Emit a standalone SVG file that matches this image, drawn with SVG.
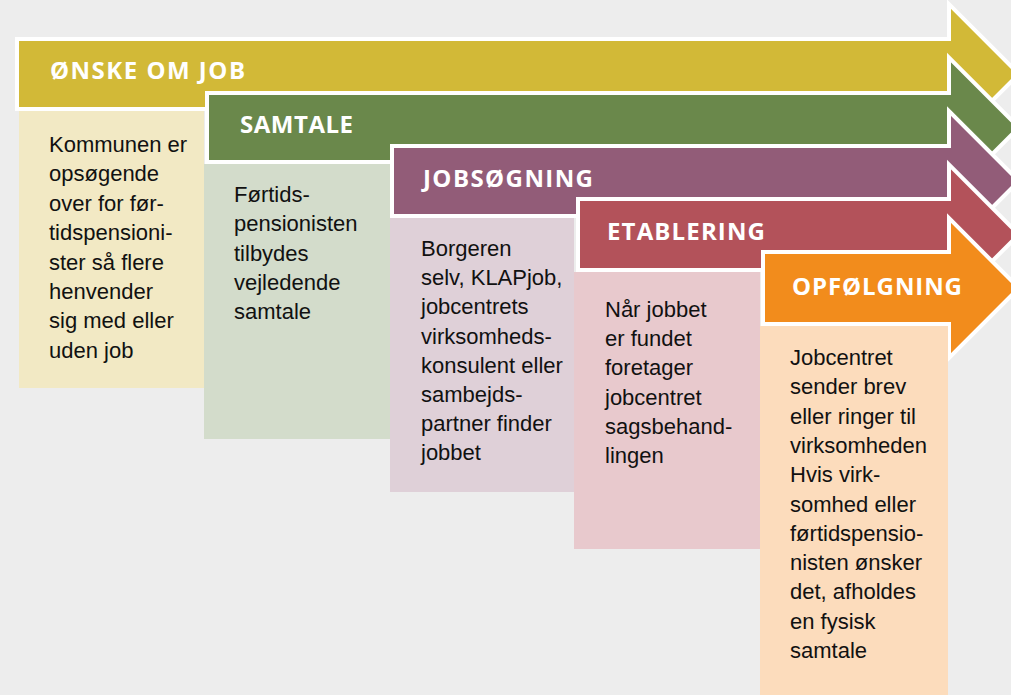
<svg xmlns="http://www.w3.org/2000/svg" width="1011" height="695" viewBox="0 0 1011 695">
<style>
.band{stroke:#ffffff;stroke-width:4;stroke-linejoin:miter}
.hd{font-family:"Open Sans","DejaVu Sans",sans-serif;font-weight:700;font-size:24px;fill:#ffffff}
.bd{font-family:"Liberation Sans",Arial,sans-serif;font-size:22px;fill:#111111}
</style>
<rect x="0" y="0" width="1011" height="695" fill="#ededed"/>
<g id="step1">
<polygon class="band" fill="#d2b937" points="17,39 949,39 949,4.2 1018.8,74 949,143.8 949,109 17,109"/>
<text class="hd" x="50" y="78.5" textLength="195">ØNSKE OM JOB</text>
<rect x="19" y="111" width="185" height="277" fill="#f2e9c4"/>
<text class="bd" x="49" y="152"><tspan x="49" dy="0">Kommunen er</tspan><tspan x="49" dy="29.4">opsøgende</tspan><tspan x="49" dy="29.4">over for før-</tspan><tspan x="49" dy="29.4">tidspensioni-</tspan><tspan x="49" dy="29.4">ster så flere</tspan><tspan x="49" dy="29.4">henvender</tspan><tspan x="49" dy="29.4">sig med eller</tspan><tspan x="49" dy="29.4">uden job</tspan></text>
</g>
<g id="step2">
<polygon class="band" fill="#6a884b" points="207,93 949,93 949,57.7 1018.8,127.5 949,197.3 949,162 207,162"/>
<text class="hd" x="240" y="132.5" textLength="113">SAMTALE</text>
<rect x="204" y="164" width="186" height="275" fill="#d3dccb"/>
<text class="bd" x="234" y="202"><tspan x="234" dy="0">Førtids-</tspan><tspan x="234" dy="29.3">pensionisten</tspan><tspan x="234" dy="29.3">tilbydes</tspan><tspan x="234" dy="29.3">vejledende</tspan><tspan x="234" dy="29.3">samtale</tspan></text>
</g>
<g id="step3">
<polygon class="band" fill="#925c78" points="392,146 949,146 949,111.2 1018.8,181 949,250.8 949,216 392,216"/>
<text class="hd" x="423" y="186.5" textLength="170">JOBSØGNING</text>
<rect x="390" y="218" width="184" height="274" fill="#dfd0d8"/>
<text class="bd" x="421" y="256"><tspan x="421" dy="0">Borgeren</tspan><tspan x="421" dy="29.2">selv, KLAPjob,</tspan><tspan x="421" dy="29.2">jobcentrets</tspan><tspan x="421" dy="29.2">virksomheds-</tspan><tspan x="421" dy="29.2">konsulent eller</tspan><tspan x="421" dy="29.2">sambejds-</tspan><tspan x="421" dy="29.2">partner finder</tspan><tspan x="421" dy="29.2">jobbet</tspan></text>
</g>
<g id="step4">
<polygon class="band" fill="#b3525a" points="578,199 949,199 949,164.7 1018.8,234.5 949,304.3 949,270 578,270"/>
<text class="hd" x="607" y="239.5" textLength="158">ETABLERING</text>
<rect x="574" y="272" width="186" height="277" fill="#e8c9cd"/>
<text class="bd" x="605" y="317"><tspan x="605" dy="0">Når jobbet</tspan><tspan x="605" dy="29.2">er fundet</tspan><tspan x="605" dy="29.2">foretager</tspan><tspan x="605" dy="29.2">jobcentret</tspan><tspan x="605" dy="29.2">sagsbehand-</tspan><tspan x="605" dy="29.2">lingen</tspan></text>
</g>
<g id="step5">
<polygon class="band" fill="#f28c1c" points="763,252 949,252 949,218.2 1018.8,288 949,357.8 949,324 763,324"/>
<text class="hd" x="792" y="294.5" textLength="170">OPFØLGNING</text>
<rect x="760" y="326" width="188" height="369" fill="#fcdcbc"/>
<text class="bd" x="790" y="365"><tspan x="790" dy="0">Jobcentret</tspan><tspan x="790" dy="29.3">sender brev</tspan><tspan x="790" dy="29.3">eller ringer til</tspan><tspan x="790" dy="29.3">virksomheden</tspan><tspan x="790" dy="29.3">Hvis virk-</tspan><tspan x="790" dy="29.3">somhed eller</tspan><tspan x="790" dy="29.3">førtidspensio-</tspan><tspan x="790" dy="29.3">nisten ønsker</tspan><tspan x="790" dy="29.3">det, afholdes</tspan><tspan x="790" dy="29.3">en fysisk</tspan><tspan x="790" dy="29.3">samtale</tspan></text>
</g>
<g id="connectors"/>
</svg>
